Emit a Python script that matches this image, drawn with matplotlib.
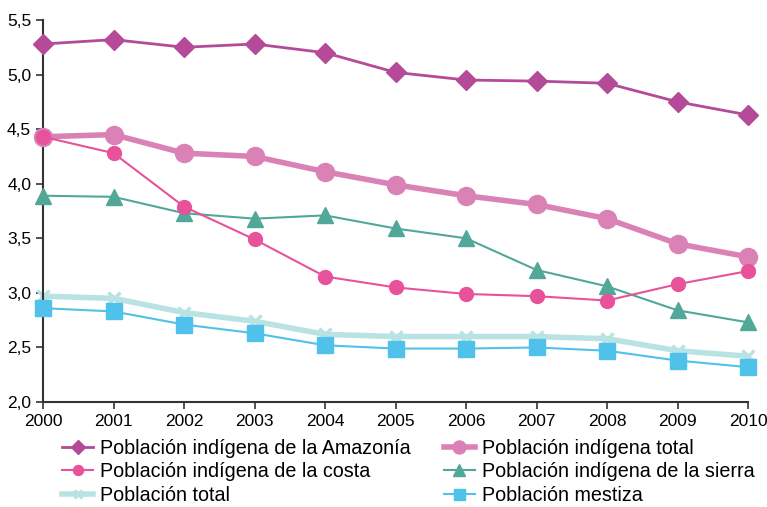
import matplotlib
matplotlib.use('Agg')
import matplotlib.pyplot as plt
from matplotlib.ticker import FuncFormatter

plt.rcParams['font.family'] = ['Liberation Sans', 'DejaVu Sans']

anios = [2000, 2001, 2002, 2003, 2004, 2005, 2006, 2007, 2008, 2009, 2010]

amazonia = [5.28, 5.32, 5.25, 5.28, 5.20, 5.02, 4.95, 4.94, 4.92, 4.75, 4.63]
indigena_total = [4.43, 4.45, 4.28, 4.25, 4.11, 3.99, 3.89, 3.81, 3.68, 3.45, 3.33]
costa = [4.43, 4.28, 3.79, 3.49, 3.15, 3.05, 2.99, 2.97, 2.93, 3.08, 3.20]
sierra = [3.89, 3.88, 3.73, 3.68, 3.71, 3.59, 3.50, 3.21, 3.06, 2.84, 2.73]
poblacion_total = [2.97, 2.95, 2.82, 2.74, 2.62, 2.60, 2.60, 2.60, 2.58, 2.47, 2.42]
mestiza = [2.86, 2.83, 2.71, 2.63, 2.52, 2.49, 2.49, 2.50, 2.47, 2.38, 2.32]

fig = plt.figure(figsize=(7.67, 5.07), dpi=100)
ax = fig.add_axes([0.0561, 0.207, 0.9192, 0.7536])

# orden de dibujo: las lineas gruesas debajo
ax.plot(anios, poblacion_total, color='#B9E2E3', lw=4, marker='x', ms=8, mew=2.5,
        label='Población total', clip_on=False, zorder=2)
ax.plot(anios, mestiza, color='#4FC1EA', lw=1.5, marker='s', ms=11,
        label='Población mestiza', clip_on=False, zorder=3)
ax.plot(anios, sierra, color='#52A898', lw=1.5, marker='^', ms=12,
        label='Población indígena de la sierra', clip_on=False, zorder=3)
ax.plot(anios, indigena_total, color='#DA82B5', lw=4, marker='o', ms=13,
        label='Población indígena total', clip_on=False, zorder=3)
ax.plot(anios, costa, color='#E8529B', lw=1.5, marker='o', ms=10,
        label='Población indígena de la costa', clip_on=False, zorder=4)
ax.plot(anios, amazonia, color='#B44A98', lw=2, marker='D', ms=10,
        label='Población indígena de la Amazonía', clip_on=False, zorder=4)

ax.set_xlim(2000, 2010)
ax.set_ylim(2.0, 5.5)
ax.set_xticks(anios)
ax.set_yticks([2.0, 2.5, 3.0, 3.5, 4.0, 4.5, 5.0, 5.5])
ax.yaxis.set_major_formatter(FuncFormatter(lambda v, p: f'{v:.1f}'.replace('.', ',')))
ax.tick_params(labelsize=12.5, length=5, color='#333333', width=1.2)
for lado in ['top', 'right']:
    ax.spines[lado].set_visible(False)
for lado in ['left', 'bottom']:
    ax.spines[lado].set_color('#333333')
    ax.spines[lado].set_linewidth(1.5)

h, l = ax.get_legend_handles_labels()
orden = ['Población indígena de la Amazonía', 'Población indígena de la costa', 'Población total',
         'Población indígena total', 'Población indígena de la sierra', 'Población mestiza']
hs = [h[l.index(n)] for n in orden]
fig.legend(hs, orden, loc='upper left', bbox_to_anchor=(0.081, 0.135), ncol=2, frameon=False,
           fontsize=14.2, handlelength=1.57, handletextpad=0.36, columnspacing=1.68,
           labelspacing=0.24, borderaxespad=0, borderpad=0, markerscale=0.72)

fig.savefig('out.png', dpi=100)
